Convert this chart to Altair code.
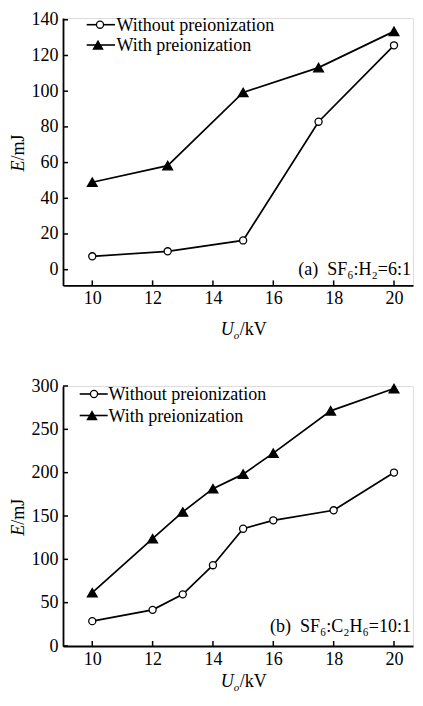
import altair as alt
import pandas as pd

FONT = "'Liberation Serif', 'Times New Roman', Times, serif"
SERIES = ["Without preionization", "With preionization"]

# ---- panel (a) data ----
a_x_without = [10, 12.5, 15, 17.5, 20]
a_without = [7.5, 10.3, 16.4, 82.9, 125.7]
a_x_with = [10, 12.5, 15, 17.5, 20]
a_with = [49.0, 58.3, 99.3, 113.2, 133.5]
a_yticks = [0, 20, 40, 60, 80, 100, 120, 140]

# ---- panel (b) data ----
b_x_without = [10, 12, 13, 14, 15, 16, 18, 20]
b_without = [28.7, 41.7, 59.6, 93.2, 135.3, 145.0, 156.6, 200.1]
b_x_with = [10, 12, 13, 14, 15, 16, 17.9, 20]
b_with = [61.5, 123.8, 154.7, 181.5, 198.3, 222.5, 271.3, 297.1]
b_yticks = [0, 50, 100, 150, 200, 250, 300]

x_ticks = [10, 12, 14, 16, 18, 20]

W = 350
XDOM = [9.03, 20.63]


def make_df(xw, yw, xp, yp):
    rows = [{"U": x, "E": y, "series": SERIES[0]} for x, y in zip(xw, yw)]
    rows += [{"U": x, "E": y, "series": SERIES[1]} for x, y in zip(xp, yp)]
    return pd.DataFrame(rows)


def text_layer(txt, x, y, size=18, style="normal", align="left", angle=0, dy=0):
    return alt.Chart(pd.DataFrame({"t": [txt]})).mark_text(
        font=FONT, fontSize=size, fontStyle=style, align=align,
        baseline="alphabetic", angle=angle, dy=dy, color="black"
    ).encode(text="t:N", x=alt.value(x), y=alt.value(y))


def legend_row(name, shape, fill, size, x0, x1, xm, xl, yr):
    one = pd.DataFrame({"t": [name]})
    seg = alt.Chart(one).mark_rule(color="black", strokeWidth=1.6).encode(
        x=alt.value(x0), x2=alt.value(x1), y=alt.value(yr))
    mk = alt.Chart(one).mark_point(shape=shape, fill=fill, stroke="black",
                                   strokeWidth=1.3, opacity=1, size=size).encode(
        x=alt.value(xm), y=alt.value(yr))
    lab = alt.Chart(one).mark_text(font=FONT, fontSize=18, align="left",
                                   baseline="alphabetic", color="black").encode(
        text="t:N", x=alt.value(xl), y=alt.value(yr + 6))
    return [seg, mk, lab]


def panel(df, ydom, yticks, H, leg, note, note_x, note_y, ytitle_y, xtitle_y):
    xs = alt.Scale(domain=XDOM, nice=False, zero=False)
    ys = alt.Scale(domain=ydom, nice=False, zero=False)
    xax = alt.Axis(orient="bottom", values=x_ticks, ticks=False, grid=False,
                   domainColor="black", domainWidth=1.8, labelFont=FONT,
                   labelFontSize=18, labelColor="black", labelPadding=4,
                   title=None)
    yax = alt.Axis(orient="left", values=yticks, ticks=False, grid=False,
                   domainColor="black", domainWidth=1.8, labelFont=FONT,
                   labelFontSize=18, labelColor="black", labelPadding=5,
                   title=None)
    X = alt.X("U:Q", scale=xs, axis=xax)
    Y = alt.Y("E:Q", scale=ys, axis=yax)
    base = alt.Chart(df)
    lines = base.mark_line(color="black", strokeWidth=1.7).encode(
        x=X, y=Y, detail="series:N")
    pts = base.mark_point(filled=True, stroke="black", strokeWidth=1.3,
                          opacity=1).encode(
        x=X, y=Y,
        shape=alt.Shape("series:N", scale=alt.Scale(domain=SERIES,
                        range=["circle", "triangle-up"]), legend=None),
        fill=alt.condition(alt.datum.series == SERIES[1], alt.value("black"),
                           alt.value("white")),
        size=alt.condition(alt.datum.series == SERIES[1], alt.value(95),
                           alt.value(50)),
    )
    # inward ticks on both axes
    xt = alt.Chart(pd.DataFrame({"U": x_ticks})).mark_rule(
        color="black", strokeWidth=1.5).encode(
        x=X, y=alt.value(H), y2=alt.value(H - 5))
    yt = alt.Chart(pd.DataFrame({"E": yticks})).mark_rule(
        color="black", strokeWidth=1.5).encode(
        y=Y, x=alt.value(0), x2=alt.value(5))
    x0, x1, xm, xl, y1, y2 = leg
    legend = (legend_row(SERIES[0], "circle", "white", 50, x0, x1, xm, xl, y1)
              + legend_row(SERIES[1], "triangle-up", "black", 85, x0, x1, xm - 2, xl, y2))
    ux = xtitle_y[0]
    texts = [
        text_layer("E", -39, ytitle_y, style="italic", align="right", angle=270),
        text_layer("/mJ", -39, ytitle_y, align="left", angle=270),
        text_layer("U", ux, xtitle_y[1], style="italic", align="right"),
        text_layer("o", ux, xtitle_y[1], size=11, style="italic", align="left", dy=4),
        text_layer("/kV", ux + 6, xtitle_y[1], align="left"),
        text_layer(note, note_x, note_y, align="right"),
    ]
    return alt.layer(xt, yt, lines, pts, *legend, *texts).properties(
        width=W, height=H)


df_a = make_df(a_x_without, a_without, a_x_with, a_with)
df_b = make_df(b_x_without, b_without, b_x_with, b_with)

HA = 267.4
HB = 260
top = panel(df_a, [-8.8, 141], a_yticks, HA,
            (23.7, 52, 37, 53.5, 6.7, 27),
            "(a)\u00a0 SF\u2086:H\u2082=6:1", 348, 256.7, 142.5, (170.7, 317.4))
bottom = panel(df_b, [0, 300], b_yticks, HB,
               (16.7, 44.7, 31, 45.5, 8, 29.5),
               "(b)\u00a0 SF\u2086:C\u2082H\u2086=10:1", 348, 245.5, 138.8,
               (170.7, HB + 41))

chart = alt.vconcat(top, bottom, spacing=100, bounds="flush").properties(
    padding={"left": 1, "top": 2, "right": 0, "bottom": 0}
).configure_view(stroke=None).configure(background="white")

chart.save("out.html", embed_options={"renderer": "svg", "actions": False})
